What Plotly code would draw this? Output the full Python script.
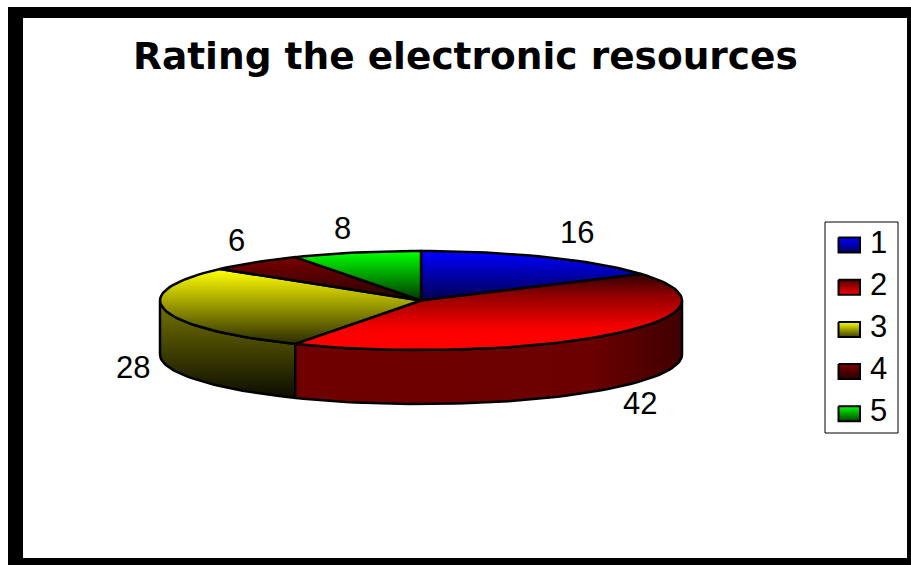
import math
import plotly.graph_objects as go

# Survey results
categories = ["1", "2", "3", "4", "5"]
values = [16, 42, 28, 6, 8]
title_text = "Rating the electronic resources"

# Slice styling: vertical gradient stops on the top face, as (y, colour)
top_faces = [
    [(252, "#0000ff"), (300, "#000050")],
    [(272, "#240000"), (295, "#900000"), (325, "#f00000"), (335, "#ff0000"), (350, "#ff0000")],
    [(270, "#ffff00"), (345, "#282800")],
    [(258, "#780000"), (300, "#280000")],
    [(252, "#00ff00"), (300, "#003800")],
]
key_colours = [
    ("#0000ff", "#000060"),
    ("#500000", "#ff0000"),
    ("#ffff00", "#404000"),
    ("#780000", "#280000"),
    ("#00ff00", "#004000"),
]
label_anchors = [(577, 232), (640, 403), (133, 367), (236, 240), (342, 228)]

WIDTH, HEIGHT = 911, 565
CX, CY, RX, RY, DEPTH = 421, 300.5, 261, 49.5, 54
STEP = 2.0


def rim(angle, drop=0.0):
    rad = math.radians(angle)
    return CX + RX * math.sin(rad), CY - RY * math.cos(rad) + drop


def arc(a0, a1, drop=0.0):
    n = max(2, int(abs(a1 - a0) / STEP) + 1)
    return [rim(a0 + (a1 - a0) * i / (n - 1), drop) for i in range(n)]


def gradient(kind, stops):
    lo, hi = stops[0][0], stops[-1][0]
    scale = [[(p - lo) / (hi - lo), c] for p, c in stops]
    return dict(type=kind, start=lo, stop=hi, colorscale=scale)


def poly(points, grad, width=2.5):
    xs = [p[0] for p in points] + [points[0][0]]
    ys = [p[1] for p in points] + [points[0][1]]
    return go.Scatter(
        x=xs, y=ys, mode="lines", fill="toself", fillgradient=grad,
        line=dict(color="#000000", width=width),
        hoverinfo="skip", showlegend=False,
    )


fig = go.Figure()

# Cumulative slice angles, clockwise from twelve o'clock
total = sum(values)
edges = [0.0]
for v in values:
    edges.append(edges[-1] + 360.0 * v / total)

# Outer walls: only the front half of the disc is visible
wall_styles = {
    1: gradient("horizontal", [(293, "#700000"), (590, "#6c0000"), (682, "#400000")]),
    2: gradient("vertical", [(296, "#7c7c00"), (398, "#0c0c00")]),
}
for idx in (2, 1):
    a0, a1 = max(edges[idx], 90.0), min(edges[idx + 1], 270.0)
    fig.add_trace(poly(arc(a0, a1) + arc(a1, a0, DEPTH), wall_styles[idx]))

# Top faces
for i in range(len(values)):
    pts = [(CX, CY)] + arc(edges[i], edges[i + 1])
    fig.add_trace(poly(pts, gradient("vertical", top_faces[i])))

# Key swatches
KEY_X0, KEY_X1, KEY_Y0, KEY_H, KEY_PITCH = 838.5, 860, 237.5, 15, 42.2
for i, (c0, c1) in enumerate(key_colours):
    y0 = KEY_Y0 + i * KEY_PITCH
    pts = [(KEY_X0, y0), (KEY_X1, y0), (KEY_X1, y0 + KEY_H), (KEY_X0, y0 + KEY_H)]
    fig.add_trace(poly(pts, gradient("vertical", [(y0, c0), (y0 + KEY_H, c1)]), width=2))

annotations = [
    dict(x=465, y=56, text=f"<b>{title_text}</b>", font_size=37.5, font_family="DejaVu Sans")
]
for v, (x, y) in zip(values, label_anchors):
    annotations.append(dict(x=x, y=y, text=str(v), font_size=31, font_family="Liberation Sans"))
for i, cat in enumerate(categories):
    annotations.append(dict(x=878, y=242 + i * 42, text=cat, font_size=31, font_family="Liberation Sans"))

for a in annotations:
    family = a.pop("font_family")
    a.update(xref="x", yref="y", showarrow=False, xanchor="center", yanchor="middle",
             font=dict(family=family, color="#000000", size=a.pop("font_size")))

fig.update_layout(
    width=WIDTH, height=HEIGHT, margin=dict(l=0, r=0, t=0, b=0),
    paper_bgcolor="#ffffff", plot_bgcolor="#ffffff", showlegend=False,
    xaxis=dict(range=[0, WIDTH], visible=False, fixedrange=True),
    yaxis=dict(range=[HEIGHT, 0], visible=False, fixedrange=True),
    annotations=annotations,
    shapes=[
        dict(type="rect", layer="below", x0=8, x1=WIDTH, y0=7, y1=HEIGHT,
             fillcolor="#000000", line_width=0),
        dict(type="rect", layer="below", x0=23, x1=907, y0=18, y1=558,
             fillcolor="#ffffff", line_width=0),
        dict(type="rect", layer="below", x0=825, x1=898, y0=222, y1=433,
             fillcolor="#ffffff", line=dict(color="#000000", width=1)),
    ],
)

fig.write_html("out.html", config=dict(displayModeBar=False))
